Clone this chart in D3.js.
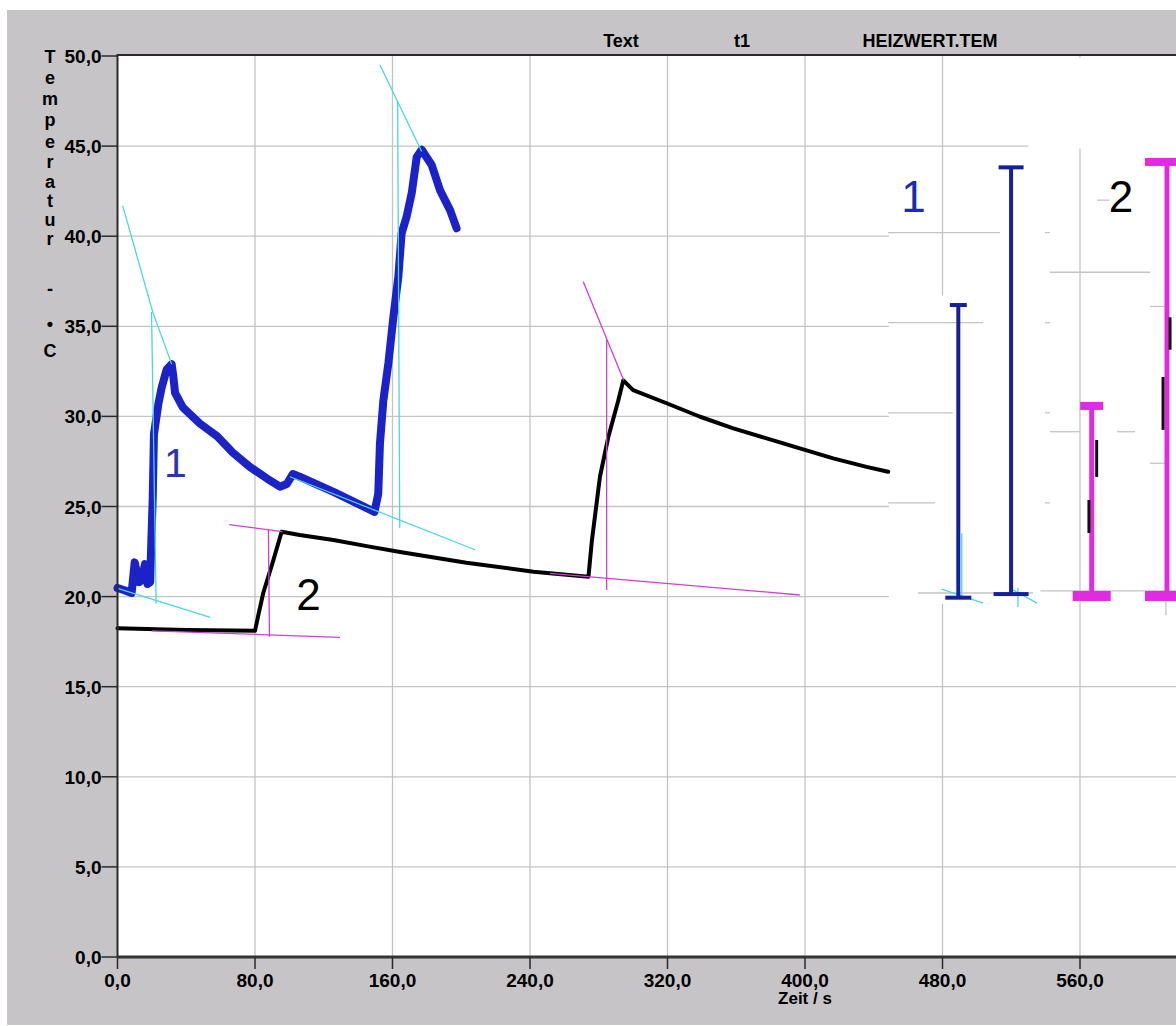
<!DOCTYPE html>
<html><head><meta charset="utf-8">
<script src="https://cdn.jsdelivr.net/npm/d3@7"></script>
<style>
html,body{margin:0;padding:0;background:#fff;}
svg{display:block;}
.lbl{font-family:"Liberation Sans","Arial",sans-serif;font-weight:bold;fill:#000;}
.big{font-family:"Liberation Sans","Arial",sans-serif;font-weight:normal;}
</style></head><body>
<svg id="c" width="1176" height="1026"></svg>
<script>
// ---------- data ----------
const xTicks = [0, 80, 160, 240, 320, 400, 480, 560];
const xTickLabels = ["0,0", "80,0", "160,0", "240,0", "320,0", "400,0", "480,0", "560,0"];
const yTicks = [0, 5, 10, 15, 20, 25, 30, 35, 40, 45, 50];
const yTickLabels = ["0,0", "5,0", "10,0", "15,0", "20,0", "25,0", "30,0", "35,0", "40,0", "45,0", "50,0"];
const titleTexts = ["Text", "t1", "HEIZWERT.TEM"];
const xAxisTitle = "Zeit / s";
const yAxisLetters = ["T", "e", "m", "p", "e", "r", "a", "t", "u", "r", "-", "•", "C"];

// series 1 (blue): time [s], temperature [°C]
const series1Time = [0, 4, 8.2, 10, 12.5, 14, 16, 17.5, 19, 19.5, 20.5, 21.2, 23.8, 25.7, 28.6, 31.5, 32.5, 33.5, 38, 48, 58, 67, 77, 87, 94.5, 98.5, 102, 106, 126, 149.5, 151.7, 152.7, 154.7, 157.6, 160.5, 163.4, 165.3, 168.2, 171.2, 174.1, 177, 182.8, 187.6, 193.5, 197.3];
const series1Temp = [20.48, 20.35, 20.2, 21.9, 20.8, 20.9, 21.8, 20.7, 20.8, 22.5, 25.5, 29.0, 30.7, 31.6, 32.6, 32.9, 32.2, 31.3, 30.5, 29.6, 28.9, 28.0, 27.2, 26.55, 26.1, 26.25, 26.8, 26.65, 25.8, 24.7, 25.7, 28.5, 30.9, 32.95, 35.5, 37.75, 40.16, 41.08, 42.4, 44.4, 44.8, 43.95, 42.56, 41.45, 40.44];

// series 2 (black)
const series2Time = [0, 40, 80, 82, 84.8, 90.6, 95.5, 106, 125.6, 145, 164.4, 203, 242, 274, 276, 280.7, 285.6, 291.4, 294.3, 300, 319.5, 339, 358.3, 377.7, 397, 416.4, 435.8, 448.4];
const series2Temp = [18.24, 18.15, 18.1, 19.0, 20.2, 22.0, 23.6, 23.42, 23.14, 22.8, 22.47, 21.88, 21.38, 21.1, 23.1, 26.65, 28.87, 30.9, 32.0, 31.46, 30.73, 29.98, 29.34, 28.78, 28.23, 27.67, 27.2, 26.93];

// construction lines for series 1 (cyan) and series 2 (magenta): [time, temp] vertices
const cyanLines = [
  [[3, 41.7], [20.5, 35.8], [31.5, 32.9]],
  [[19.8, 35.8], [22.5, 19.6]],
  [[0, 20.45], [54, 18.85]],
  [[152.7, 49.5], [177, 44.7]],
  [[163, 47.5], [164.2, 23.8]],
  [[100.4, 26.65], [208, 22.6]],
  [[479.5, 20.42], [503.7, 19.64]],
  [[521, 20.37], [535, 19.64]],
  [[523.9, 20.48], [523.9, 19.42]],
  [[491.2, 23.5], [491.2, 20.0]]
];
const pinkLines = [
  [[65, 24.0], [96, 23.6]],
  [[87.8, 23.7], [88.4, 17.77]],
  [[20, 18.1], [129.5, 17.74]],
  [[271, 37.47], [294.5, 32.0]],
  [[284.6, 34.24], [284.6, 20.37]],
  [[251.6, 21.29], [397, 20.09]]
];

// inset: temperature rise bars (time position, low, high)
const barTime = [489.2, 519.9, 566.8, 610.6];
const barLow = [19.94, 20.14, 20.09, 20.09];
const barHigh = [36.18, 43.82, 30.58, 44.12];
const barSeries = [1, 1, 2, 2];
// black remnant strokes inside the inset: [time, temp from, temp to]
const insetFragments = [[569.7, 28.69, 26.64], [565.2, 25.36, 23.53], [608.3, 32.19, 29.25], [612.4, 35.5, 33.7]];
// inset grid remnants: horizontal [t1, t2, temp], vertical [t, temp1, temp2]
const insetHGrid = [[448.3, 513.5, 40.2], [448.3, 503.6, 35.2], [448.3, 486, 30.2], [448.3, 475.6, 25.2], [465.7, 532.7, 20.2], [537, 616, 20.32], [542.5, 600.7, 38.0], [542.5, 560, 29.15], [581.5, 592, 29.15], [539.6, 542.5, 40.2], [539.6, 542.5, 35.2], [539.6, 542.5, 30.2], [539.6, 542.5, 25.2], [600.7, 610, 36.1], [600.7, 610, 27.4], [570, 577, 42.0]];
const insetVGrid = [[480, 44.85, 36.7], [560, 44.85, 19.6], [610, 19.8, 18.98]];
// annotation labels [text, time, temp(baseline), series]
const annotations = [["1", 33.7, 26.64, 1], ["2", 111.1, 19.26, 2], ["1", 463.1, 41.34, 1], ["2", 583.9, 41.34, 2]];

// ---------- drawing ----------
const svg = d3.select("#c");
const x = d3.scaleLinear().domain([0, 560]).range([117.5, 1080]);
const y = d3.scaleLinear().domain([0, 50]).range([957, 56]);
const W = 1176;

const gridColor = "#c4c4c4";
const blue = "#1a22c8", navy = "#14209e", magenta = "#e22ae2";
const cyan = "#46d8e2", pinkThin = "#d23ed2";

svg.append("rect").attr("x", 0).attr("y", 0).attr("width", W).attr("height", 1026).attr("fill", "#fff");
svg.append("rect").attr("x", 7).attr("y", 10).attr("width", W - 7).attr("height", 1015).attr("fill", "#c6c4c6");
svg.append("rect").attr("x", x(0)).attr("y", y(50)).attr("width", W - x(0)).attr("height", y(0) - y(50)).attr("fill", "#fff");

// grid
svg.append("g").selectAll("line").data(yTicks.filter(d => d > 0 && d < 50)).join("line")
  .attr("x1", x(0)).attr("x2", W).attr("y1", d => y(d)).attr("y2", d => y(d))
  .attr("stroke", gridColor).attr("stroke-width", 1.3);
svg.append("g").selectAll("line").data(xTicks.filter(d => d > 0)).join("line")
  .attr("x1", d => x(d)).attr("x2", d => x(d)).attr("y1", y(50)).attr("y2", y(0))
  .attr("stroke", gridColor).attr("stroke-width", 1.3);

// pasted inset masks
svg.append("rect").attr("x", x(530)).attr("y", y(49.9)).attr("width", W - x(530)).attr("height", y(44.85) - y(49.9)).attr("fill", "#fff");
svg.append("rect").attr("x", x(448.8)).attr("y", y(44.85)).attr("width", W - x(448.8)).attr("height", y(19.6) - y(44.85)).attr("fill", "#fff");

svg.append("g").selectAll("line").data(insetHGrid).join("line")
  .attr("x1", d => x(d[0])).attr("x2", d => x(d[1])).attr("y1", d => y(d[2])).attr("y2", d => y(d[2]))
  .attr("stroke", gridColor).attr("stroke-width", 1.3);
svg.append("g").selectAll("line").data(insetVGrid).join("line")
  .attr("x1", d => x(d[0])).attr("x2", d => x(d[0])).attr("y1", d => y(d[1])).attr("y2", d => y(d[2]))
  .attr("stroke", gridColor).attr("stroke-width", 1.3);

const line = d3.line().x(d => x(d[0])).y(d => y(d[1]));
const s1 = series1Time.map((t, i) => [t, series1Temp[i]]);
const s2 = series2Time.map((t, i) => [t, series2Temp[i]]);

svg.append("path").datum(s2).attr("d", line).attr("fill", "none").attr("stroke", "#000")
  .attr("stroke-width", 4).attr("stroke-linejoin", "round").attr("stroke-linecap", "round");
svg.append("path").datum(s1).attr("d", line).attr("fill", "none").attr("stroke", blue)
  .attr("stroke-width", 8).attr("stroke-linejoin", "round").attr("stroke-linecap", "round");

svg.append("g").selectAll("path").data(cyanLines).join("path").attr("d", line)
  .attr("fill", "none").attr("stroke", cyan).attr("stroke-width", 1.3);
svg.append("g").selectAll("path").data(pinkLines).join("path").attr("d", line)
  .attr("fill", "none").attr("stroke", pinkThin).attr("stroke-width", 1.3);

// inset bars
const capTop = [17, 25, 23, 44], capBot = [26, 35, 38, 44];
const bars = barTime.map((t, i) => ({t, lo: barLow[i], hi: barHigh[i], s: barSeries[i], i}));
const bg = svg.append("g");
bars.forEach(b => {
  const col = b.s === 1 ? navy : magenta;
  const lw = b.s === 1 ? 4 : 5;
  const capH = b.s === 1 ? 4 : 8;
  bg.append("line").attr("x1", x(b.t)).attr("x2", x(b.t)).attr("y1", y(b.hi)).attr("y2", y(b.lo))
    .attr("stroke", col).attr("stroke-width", lw);
  bg.append("rect").attr("x", x(b.t) - capTop[b.i] / 2).attr("y", y(b.hi) - capH / 2)
    .attr("width", capTop[b.i]).attr("height", capH).attr("fill", col);
  bg.append("rect").attr("x", x(b.t) - capBot[b.i] / 2).attr("y", y(b.lo) - capH / 2)
    .attr("width", capBot[b.i]).attr("height", capH + (b.s === 2 ? 2 : 0)).attr("fill", col);
});
svg.append("g").selectAll("line").data(insetFragments).join("line")
  .attr("x1", d => x(d[0])).attr("x2", d => x(d[0])).attr("y1", d => y(d[1])).attr("y2", d => y(d[2]))
  .attr("stroke", "#111").attr("stroke-width", 3);

// annotations
svg.append("g").selectAll("text").data(annotations).join("text")
  .attr("class", "big")
  .attr("x", d => x(d[1])).attr("y", d => y(d[2]))
  .attr("text-anchor", "middle")
  .attr("font-size", (d, i) => i === 0 ? 41 : 44)
  .attr("fill", d => d[3] === 1 ? (d[1] > 400 ? "#1a2ab8" : "#2a34b4") : "#000")
  .text(d => d[0]);

// axes frame
const axisCol = "#2a2a2a";
svg.append("line").attr("x1", x(0)).attr("x2", W).attr("y1", y(50) - 1).attr("y2", y(50) - 1).attr("stroke", axisCol).attr("stroke-width", 2);
svg.append("line").attr("x1", x(0)).attr("x2", x(0)).attr("y1", y(50) - 2).attr("y2", y(0)).attr("stroke", axisCol).attr("stroke-width", 2);
svg.append("line").attr("x1", x(0)).attr("x2", W).attr("y1", y(0)).attr("y2", y(0)).attr("stroke", "#333").attr("stroke-width", 3);

// y ticks & labels
const yl = svg.append("g");
yTicks.forEach((v, i) => {
  yl.append("line").attr("x1", x(0) - 16).attr("x2", x(0)).attr("y1", y(v)).attr("y2", y(v)).attr("stroke", axisCol).attr("stroke-width", 1.5);
  yl.append("text").attr("class", "lbl").attr("x", x(0) - 16).attr("y", y(v) + 7)
    .attr("text-anchor", "end").attr("font-size", 19).text(yTickLabels[i]);
});
// x ticks & labels
const xl = svg.append("g");
xTicks.forEach((v, i) => {
  xl.append("line").attr("x1", x(v)).attr("x2", x(v)).attr("y1", y(0)).attr("y2", y(0) + 12).attr("stroke", axisCol).attr("stroke-width", 1.5);
  xl.append("text").attr("class", "lbl").attr("x", x(v)).attr("y", 987)
    .attr("text-anchor", "middle").attr("font-size", 19).text(xTickLabels[i]);
});
svg.append("text").attr("class", "lbl").attr("x", x(400)).attr("y", 1004).attr("text-anchor", "middle")
  .attr("font-size", 17).text(xAxisTitle);

// y axis title (stacked letters)
const letterY = [56, 77, 98, 119, 141, 161, 181, 200, 219, 238, 288, 323, 350];
svg.append("g").selectAll("text").data(yAxisLetters).join("text").attr("class", "lbl")
  .attr("x", 50).attr("y", (d, i) => letterY[i] + 6.5).attr("text-anchor", "middle")
  .attr("font-size", 18).text(d => d);

// header texts
const titleX = [621, 742, 930];
svg.append("g").selectAll("text").data(titleTexts).join("text").attr("class", "lbl")
  .attr("x", (d, i) => titleX[i]).attr("y", 47).attr("text-anchor", "middle")
  .attr("font-size", 18).text(d => d);
</script>
</body></html>
